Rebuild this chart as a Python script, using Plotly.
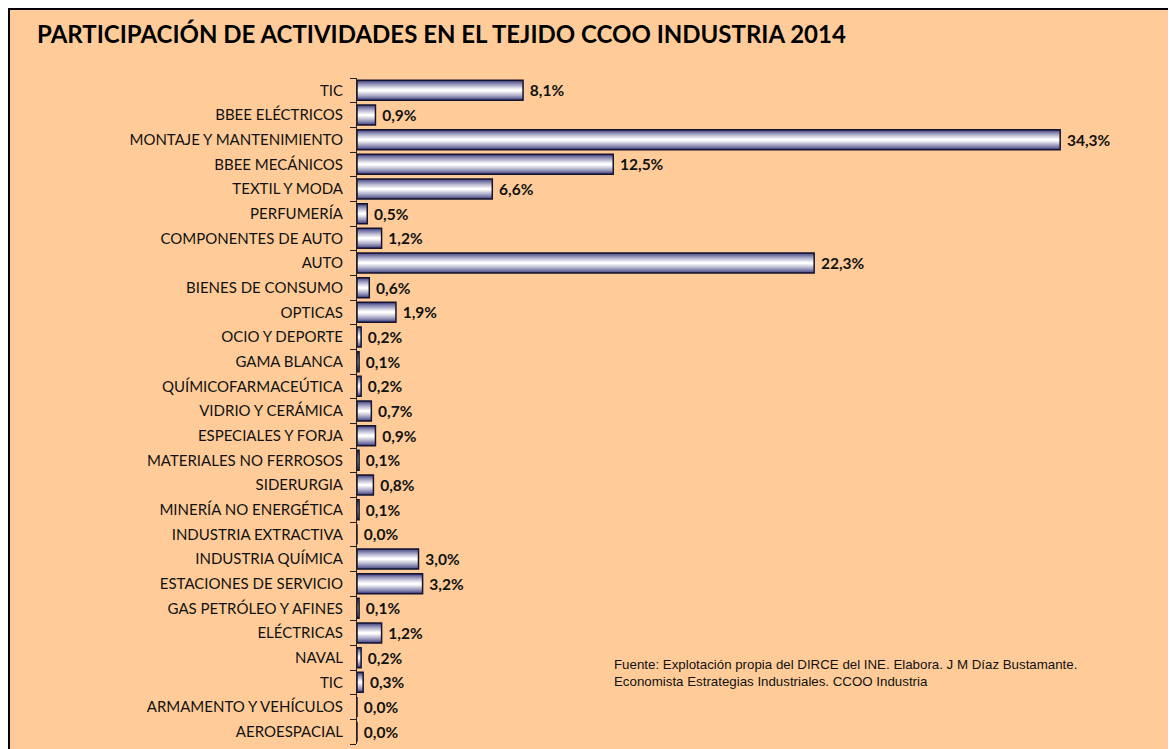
import plotly.graph_objects as go

categories = ["TIC", "BBEE ELÉCTRICOS", "MONTAJE Y MANTENIMIENTO", "BBEE MECÁNICOS",
              "TEXTIL Y MODA", "PERFUMERÍA", "COMPONENTES DE AUTO", "AUTO",
              "BIENES DE CONSUMO", "OPTICAS", "OCIO Y DEPORTE", "GAMA BLANCA",
              "QUÍMICOFARMACEÚTICA", "VIDRIO Y CERÁMICA", "ESPECIALES Y FORJA",
              "MATERIALES NO FERROSOS", "SIDERURGIA", "MINERÍA NO ENERGÉTICA",
              "INDUSTRIA EXTRACTIVA", "INDUSTRIA QUÍMICA", "ESTACIONES DE SERVICIO",
              "GAS PETRÓLEO Y AFINES", "ELÉCTRICAS", "NAVAL", "TIC",
              "ARMAMENTO Y VEHÍCULOS", "AEROESPACIAL"]
values = [8.1, 0.9, 34.3, 12.5, 6.6, 0.5, 1.2, 22.3, 0.6, 1.9, 0.2, 0.1, 0.2, 0.7,
          0.9, 0.1, 0.8, 0.1, 0.0, 3.0, 3.2, 0.1, 1.2, 0.2, 0.3, 0.0, 0.0]

title = "PARTICIPACIÓN DE ACTIVIDADES EN EL TEJIDO CCOO INDUSTRIA 2014"
source = ("Fuente: Explotación propia del DIRCE del INE. Elabora. J M Díaz Bustamante.<br>"
          "Economista Estrategias Industriales. CCOO Industria")

pos = list(range(len(categories)))
labels = ["\u00a0" + f"{v:.1f}".replace(".", ",") + "%" for v in values]

W, H = 1176, 749
OFF = 8  # page body offset
ML, MR, MT, MB = 349, 0, 70, 13
PW, PH = W - ML - MR, H - MT - MB

def px(x):
    return (x - OFF - ML) / PW

def py(y):
    return (H - MB - (y - OFF)) / PH

BG = "#FFCC99"
navy = (62, 62, 128)
white = (255, 255, 255)

fig = go.Figure()
N = 9
for k in range(N):
    t = k / (N - 1)
    c = tuple(round(navy[i] + (white[i] - navy[i]) * t ** 0.8) for i in range(3))
    w = 0.81 * (1 - k / N)
    fig.add_trace(go.Bar(
        x=values, y=pos, orientation="h", width=w,
        marker=dict(color=f"rgb{c}", line=dict(width=0)),
        hoverinfo="skip", showlegend=False))

fig.add_trace(go.Bar(
    x=values, y=pos, orientation="h", width=0.81,
    marker=dict(color="rgba(0,0,0,0)", line=dict(color="#14142e", width=1.5)),
    text=labels, textposition="outside", cliponaxis=False,
    textfont=dict(family="Lato", size=15.5, color="#111111", weight="bold"),
    showlegend=False))

fig.update_layout(
    width=W, height=H,
    margin=dict(l=ML, r=MR, t=MT, b=MB, pad=0),
    paper_bgcolor="white", plot_bgcolor="rgba(0,0,0,0)",
    barmode="overlay",
    xaxis=dict(range=[0, PW / 20.5], visible=False, fixedrange=True, automargin=False),
    yaxis=dict(range=[len(categories) - 0.5, -0.5], automargin=False,
               tickmode="array", tickvals=pos, ticktext=categories,
               ticks="outside", ticklen=10, tickcolor="rgba(0,0,0,0)",
               minor=dict(tickmode="array", tickvals=[p - 0.5 for p in pos] + [len(pos) - 0.5],
                          ticks="outside", ticklen=6, tickcolor="#222", tickwidth=1,
                          showgrid=False),
               showline=True, linecolor="#222", linewidth=1, showgrid=False,
               zeroline=False,
               tickfont=dict(family="Lato", size=15, color="#111")),
    shapes=[dict(type="rect", xref="paper", yref="paper",
                 x0=px(OFF + 1), x1=px(W + 40), y0=py(H + 40), y1=py(OFF + 1),
                 fillcolor=BG, line=dict(color="black", width=2), layer="below")],
    annotations=[
        dict(text=title, xref="paper", yref="paper", x=px(35), y=py(33),
             xanchor="left", yanchor="middle", showarrow=False,
             font=dict(family="Lato", size=24, color="black", weight="bold")),
        dict(text=source, xref="paper", yref="paper", x=px(612), y=py(673),
             xanchor="left", yanchor="middle", align="left", showarrow=False,
             font=dict(family="Liberation Sans", size=13.3, color="#111")),
    ],
)

fig.write_html("out.html")
